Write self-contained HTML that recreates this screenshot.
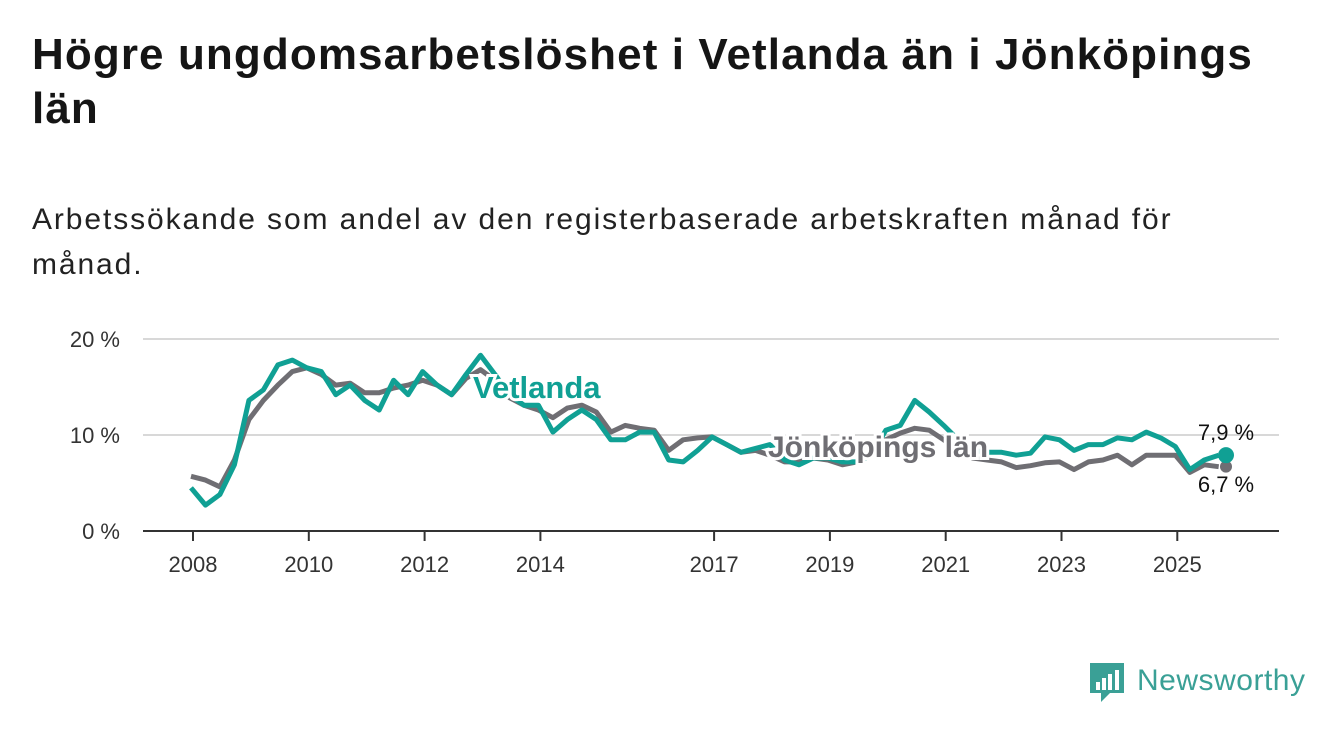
<!DOCTYPE html>
<html><head><meta charset="utf-8">
<style>
body{margin:0;width:1340px;height:734px;background:#fff;font-family:"Liberation Sans","DejaVu Sans",sans-serif;overflow:hidden;position:relative;color:#111}
h1{position:absolute;left:32px;top:28px;margin:0;font-size:44px;line-height:54px;letter-spacing:1.1px;font-weight:bold;width:1300px;color:#151515;white-space:nowrap}
.sub{position:absolute;left:32px;top:197px;font-size:30px;line-height:45px;letter-spacing:1.9px;width:1300px;color:#222;white-space:nowrap}
svg{position:absolute;left:0;top:0}
</style></head><body>
<h1>Högre ungdomsarbetslöshet i Vetlanda än i Jönköpings<br>län</h1>
<div class="sub">Arbetssökande som andel av den registerbaserade arbetskraften månad för<br>månad.</div>
<svg id="chart" width="1340" height="734"></svg>
<script>
const years=[2008,2010,2012,2014,2017,2019,2021,2023,2025];
const yTicks=[0,10,20];
const startYear=2008;
const vetlanda=[4.5,2.7,3.8,6.9,13.6,14.7,17.3,17.8,17.0,16.6,14.2,15.2,13.6,12.6,15.7,14.2,16.6,15.2,14.2,16.3,18.3,16.3,14.2,13.1,13.1,10.3,11.6,12.6,11.6,9.5,9.5,10.3,10.3,7.4,7.2,8.4,9.8,9.0,8.2,8.6,9.0,7.4,6.9,7.6,7.6,7.2,7.2,7.9,10.5,11.0,13.6,12.4,11.0,9.5,8.4,8.2,8.2,7.9,8.1,9.8,9.5,8.4,9.0,9.0,9.7,9.5,10.3,9.7,8.8,6.4,7.4,7.9];
const lan=[5.7,5.3,4.6,7.4,11.6,13.6,15.2,16.6,17.0,16.3,15.2,15.4,14.4,14.4,14.9,15.2,15.7,15.2,14.2,15.9,16.8,15.7,13.9,13.1,12.6,11.8,12.8,13.1,12.4,10.3,11.0,10.7,10.5,8.4,9.5,9.7,9.8,9.0,8.2,8.4,7.9,7.2,7.2,7.6,7.4,6.9,7.2,7.9,9.5,10.2,10.7,10.5,9.5,8.4,7.6,7.4,7.2,6.6,6.8,7.1,7.2,6.4,7.2,7.4,7.9,6.9,7.9,7.9,7.9,6.1,6.9,6.7];
const svg=document.getElementById('chart');
const NS='http://www.w3.org/2000/svg';
const X=y=>193+(y-2008)*57.9;
const Y=v=>531-v*9.6;
const xi=i=>X(startYear+i*0.25)-2;
function mk(t,a,p){const e=document.createElementNS(NS,t);for(const k in a)e.setAttribute(k,a[k]);(p||svg).appendChild(e);return e;}
yTicks.forEach(v=>{
 if(v>0){const g=mk('line',{x1:143,x2:1279,y1:Y(v),y2:Y(v),stroke:'#d8d8d8','stroke-width':2});
 
 }
 const t=mk('text',{x:120,y:Y(v)+8,'text-anchor':'end','font-size':22,fill:'#333'});t.textContent=v+' %';
 
 
});
const ax=mk('line',{x1:143,x2:1279,y1:531,y2:531,stroke:'#333','stroke-width':2});


years.forEach(y=>{
 const tk=mk('line',{x1:X(y),x2:X(y),y1:531,y2:541,stroke:'#333','stroke-width':2});
 
 
 const t=mk('text',{x:X(y),y:572,'text-anchor':'middle','font-size':22,fill:'#333'});t.textContent=y;
 
 
});
function line(arr,col,name){
 const d=arr.map((v,i)=>(i?'L':'M')+xi(i).toFixed(1)+','+Y(v).toFixed(1)).join('');
 const p=mk('path',{d:d,fill:'none',stroke:col,'stroke-width':5,'stroke-linejoin':'round'});
 
 
}
line(lan,'#6f6e73','series-jonkopings-lan');
line(vetlanda,'#10a094','series-vetlanda');
function label(txt,x,y,col,name,fs){
 const t=mk('text',{x:x,y:y,'font-size':fs,'font-weight':'bold',fill:col,stroke:'#fff','stroke-width':6,'paint-order':'stroke'});t.textContent=txt;
 
 
}
label('Vetlanda',473,398,'#10a094','label-vetlanda',31);
label('Jönköpings län',768,457,'#6f6e73','label-jonkopings-lan',30);
const li=vetlanda.length-1;
const d1=mk('circle',{cx:1226,cy:Y(lan[li]),r:6,fill:'#6f6e73'});


const d2=mk('circle',{cx:1226,cy:Y(vetlanda[li]),r:8,fill:'#10a094'});


const v1=mk('text',{x:1226,y:440,'text-anchor':'middle','font-size':22,fill:'#111'});v1.textContent=vetlanda[li].toFixed(1).replace('.',',')+' %';


const v2=mk('text',{x:1226,y:492,'text-anchor':'middle','font-size':22,fill:'#111'});v2.textContent=lan[li].toFixed(1).replace('.',',')+' %';


const lg=mk('g',{});


mk('path',{d:'M1090,663 h34 v30 h-14 l-9,9 v-9 h-11 z',fill:'#3aa096'},lg);
[[1096,682,4,8],[1102,678,4,12],[1108,674,4,16],[1115,670,4,20]].forEach(r=>mk('rect',{x:r[0],y:r[1],width:r[2],height:r[3],fill:'#fff'},lg));
const lt=mk('text',{x:1137,y:690,'font-size':30,fill:'#3aa096',textLength:168},lg);lt.textContent='Newsworthy';
</script>
</body></html>
